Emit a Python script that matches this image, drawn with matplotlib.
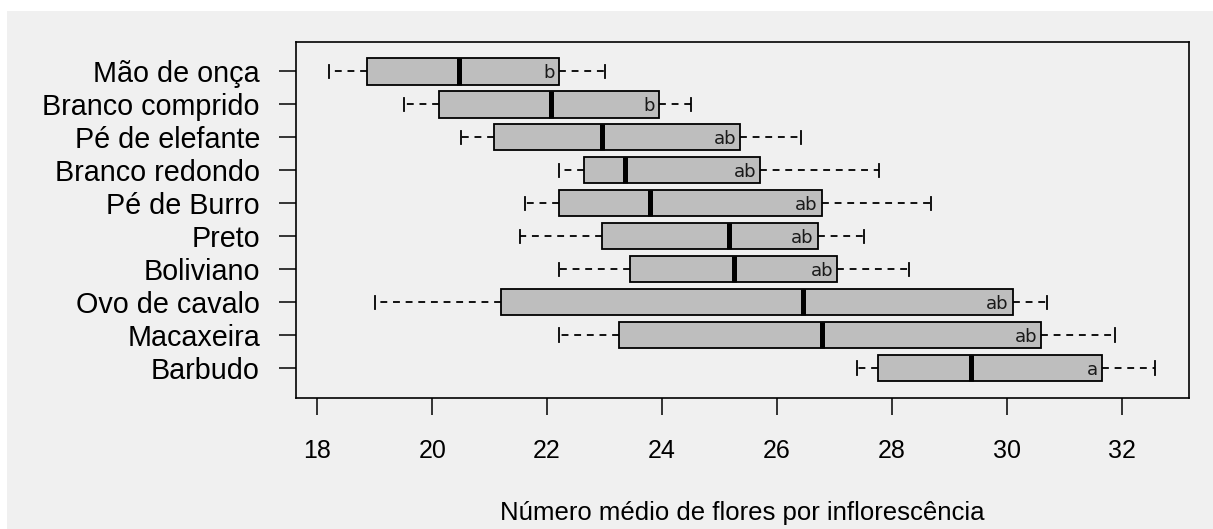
import matplotlib.pyplot as plt
from matplotlib.patches import Rectangle

# Cultivars, top to bottom, with the five-number summaries
names = ["Mão de onça", "Branco comprido", "Pé de elefante", "Branco redondo",
         "Pé de Burro", "Preto", "Boliviano", "Ovo de cavalo", "Macaxeira", "Barbudo"]
whislo = [18.20, 19.51, 20.51, 22.20, 21.62, 21.52, 22.20, 19.00, 22.20, 27.40]
q1     = [18.87, 20.12, 21.08, 22.64, 22.20, 22.96, 23.44, 21.20, 23.25, 27.76]
med    = [20.47, 22.07, 22.96, 23.35, 23.79, 25.17, 25.26, 26.45, 26.79, 29.38]
q3     = [22.20, 23.95, 25.36, 25.71, 26.78, 26.71, 27.05, 30.10, 30.60, 31.66]
whishi = [23.00, 24.50, 26.41, 27.78, 28.68, 27.51, 28.30, 30.70, 31.88, 32.58]
letters = ["b", "b", "ab", "ab", "ab", "ab", "ab", "ab", "ab", "a"]
xticks = [18, 20, 22, 24, 26, 28, 30, 32]

bg = "#f0f0f0"
fig = plt.figure(figsize=(12.13, 5.29), dpi=100, facecolor="white")
fig.patches.append(Rectangle((7 / 1213, 0), 1, 1 - 10.5 / 529, transform=fig.transFigure,
                             facecolor=bg, edgecolor="none", zorder=-10))
ax = fig.add_axes([296 / 1213, 1 - 397.7 / 529, (1189 - 296) / 1213, (397.7 - 41.7) / 529])
ax.set_facecolor(bg)

n = len(names)
positions = [n - i for i in range(n)]
stats = []
for i in range(n):
    stats.append({"whislo": whislo[i], "q1": q1[i], "med": med[i], "q3": q3[i],
                  "whishi": whishi[i], "fliers": []})

ax.bxp(stats, positions=positions, orientation="horizontal", widths=0.8, capwidths=0.4,
       patch_artist=True, showfliers=False,
       boxprops=dict(facecolor="#bebebe", edgecolor="black", linewidth=1.3),
       medianprops=dict(color="black", linewidth=3.6, solid_capstyle="butt"),
       whiskerprops=dict(color="black", linewidth=1.3, linestyle=(0, (3.8, 3.2))),
       capprops=dict(color="black", linewidth=1.3))

# significance letters inside the right end of each box
for i in range(n):
    ax.text(q3[i] - 0.07, positions[i] - 0.05, letters[i], ha="right", va="center",
            fontsize=13, color="#1a1a1a", family="DejaVu Sans")

ax.set_xlim(17.63, 33.17)
ax.set_ylim(0.1, 10.9)
ax.set_xticks(xticks)
ax.set_yticks(positions)
ax.set_yticklabels(names)
ax.tick_params(axis="x", length=12, width=1.1, pad=18, labelsize=18)
ax.tick_params(axis="y", length=12, width=1.1, pad=14, labelsize=20.7)
for lab in ax.get_xticklabels() + ax.get_yticklabels():
    lab.set_family("Liberation Sans")
for sp in ax.spines.values():
    sp.set_linewidth(1.2)

ax.set_xlabel("Número médio de flores por inflorescência", fontsize=18.5,
              family="Liberation Sans", labelpad=27)

fig.savefig("out.png", dpi=100, facecolor="white")
